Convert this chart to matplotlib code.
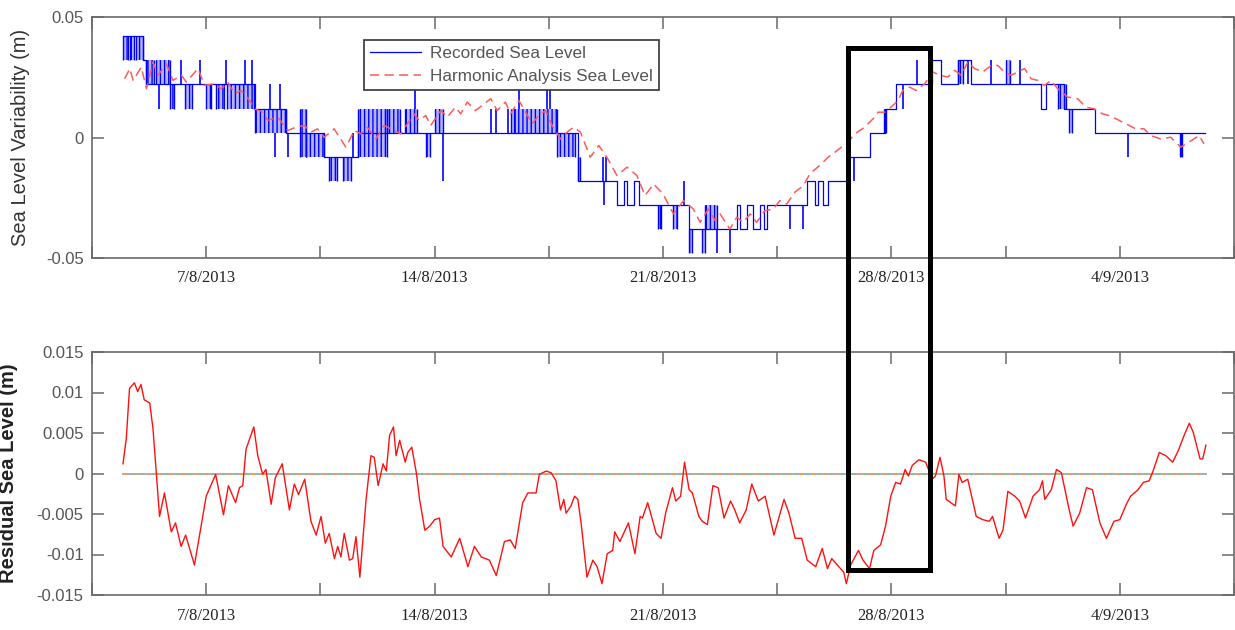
import matplotlib
matplotlib.use("Agg")
import matplotlib.pyplot as plt
from matplotlib.patches import Rectangle
import numpy as np

plt.rcParams['axes.unicode_minus'] = False
plt.rcParams['hatch.linewidth'] = 1.0
plt.rcParams['hatch.color'] = '#0000ff'

# ---------------- data (days of August 2013; 32 = 1 Sep) ----------------
# Recorded sea level: step change points (day, level in m)
rec_day = [4.45, 5.06, 5.16, 8.50, 9.45, 10.60, 11.65, 18.40, 19.60, 19.80, 19.90, 20.10,
           20.25, 21.80, 23.26, 23.36, 23.57, 23.77, 23.97, 24.10, 24.20, 25.40, 25.65,
           25.75, 25.90, 26.05, 26.70, 27.35, 27.80, 28.13, 29.25, 29.53, 30.04, 30.45,
           32.60, 32.75, 33.30, 34.25, 37.62]
rec_lvl = [0.042, 0.032, 0.022, 0.012, 0.002, -0.008, 0.002, -0.018, -0.028, -0.018, -0.028, -0.018,
           -0.028, -0.038, -0.028, -0.038, -0.028, -0.038, -0.028, -0.038, -0.028, -0.018, -0.028,
           -0.018, -0.028, -0.018, -0.008, 0.002, 0.012, 0.022, 0.032, 0.022, 0.032, 0.022,
           0.012, 0.022, 0.012, 0.002, 0.002]

# Dense flicker blocks in the recorded series: start day, end day, low, high
band_t0 = [4.45, 4.66, 4.85, 5.16, 5.45, 5.88, 6.35, 7.00, 7.30, 7.65, 8.50, 9.86, 10.05,
           10.75, 11.20, 11.65, 12.55, 13.10, 13.75, 14.00, 16.35, 17.74, 18.40, 20.85,
           21.32, 21.80, 22.19, 22.30, 27.78, 30.04, 31.52, 33.10, 33.45, 36.84]
band_t1 = [4.60, 4.78, 5.06, 5.40, 5.88, 6.00, 6.55, 7.15, 7.55, 8.45, 9.45, 10.05, 10.60,
           11.00, 11.45, 12.55, 12.95, 13.45, 13.85, 14.26, 17.74, 18.30, 18.47, 20.95,
           21.42, 21.90, 22.29, 22.66, 27.84, 30.20, 31.62, 33.35, 33.55, 36.90]
band_lo = [0.032, 0.032, 0.032, 0.022, 0.022, 0.012, 0.012, 0.012, 0.012, 0.012, 0.002, -0.008, -0.008,
           -0.018, -0.018, -0.008, 0.002, 0.002, -0.008, 0.002, 0.002, -0.008, -0.018, -0.038,
           -0.038, -0.048, -0.048, -0.038, 0.002, 0.022, 0.022, 0.012, 0.002, -0.008]
band_hi = [0.042, 0.042, 0.042, 0.032, 0.032, 0.022, 0.022, 0.022, 0.022, 0.022, 0.012, 0.012, 0.002,
           -0.008, -0.008, 0.012, 0.012, 0.012, 0.002, 0.012, 0.012, 0.002, -0.008, -0.028,
           -0.028, -0.038, -0.038, -0.028, 0.012, 0.032, 0.032, 0.022, 0.012, 0.002]

# Isolated single-sample spikes: day, low, high
spike_day = [5.55, 6.23, 6.80, 7.60, 8.20, 8.40, 8.95, 9.10, 9.25, 9.50, 11.50, 13.39, 14.26,
             15.74, 15.89, 16.25, 16.46, 16.60, 17.43, 17.53, 19.15, 19.20, 19.25, 21.63,
             22.65, 23.05, 24.90, 25.30, 26.85, 28.35, 28.78, 30.34, 31.06, 31.95, 35.24]
spike_lo = [0.012, 0.022, 0.022, 0.022, 0.022, 0.022, 0.012, -0.008, 0.012, -0.008, -0.008, 0.012, -0.018,
            0.002, 0.002, 0.002, 0.002, 0.012, 0.012, 0.012, -0.018, -0.028, -0.018, -0.028,
            -0.048, -0.048, -0.038, -0.038, -0.018, 0.012, 0.022, 0.022, 0.022, 0.022, -0.008]
spike_hi = [0.022, 0.032, 0.032, 0.032, 0.032, 0.032, 0.022, 0.002, 0.022, 0.002, 0.002, 0.022, 0.002,
            0.012, 0.012, 0.012, 0.012, 0.022, 0.022, 0.022, -0.008, -0.018, -0.008, -0.018,
            -0.038, -0.038, -0.028, -0.028, -0.008, 0.022, 0.032, 0.032, 0.032, 0.032, 0.002]

# Harmonic analysis sea level (day, mm)
harm_day = [4.50, 4.66, 4.76, 5.01, 5.17, 5.37, 5.52, 5.78, 5.98, 6.24, 6.39, 6.75, 6.95, 7.25,
            7.46, 7.66, 7.87, 8.07, 8.33, 8.48, 8.73, 8.89, 9.19, 9.50, 9.75, 10.01, 10.21,
            10.41, 10.62, 10.92, 11.28, 11.54, 11.74, 11.94, 12.20, 12.45, 12.66, 12.96,
            13.37, 13.52, 13.73, 13.88, 14.19, 14.39, 14.64, 14.80, 15.00, 15.25, 15.46,
            15.72, 15.92, 16.17, 16.33, 16.58, 16.79, 16.99, 17.19, 17.40, 17.60, 17.86,
            18.06, 18.26, 18.47, 18.77, 19.03, 19.28, 19.59, 19.90, 20.20, 20.45, 20.71,
            21.00, 21.32, 21.63, 21.93, 22.14, 22.39, 22.60, 22.75, 23.05, 23.26, 23.46,
            23.67, 23.87, 24.12, 24.38, 24.58, 24.79, 25.04, 25.30, 25.50,
            25.86, 26.06, 26.27, 26.47, 26.67, 26.88, 27.18, 27.44, 27.59, 27.79, 28.05,
            28.20, 28.35, 28.56, 28.76, 29.02, 29.27, 29.48, 29.73, 29.94, 30.14, 30.34,
            30.55, 30.80, 31.06, 31.26, 31.46, 31.67, 31.87, 32.08, 32.28, 32.48, 32.69,
            32.89, 33.10, 33.40, 33.71, 33.96, 34.22, 34.47, 34.67, 34.88, 35.18, 35.49,
            35.74, 35.95, 36.25, 36.56, 36.87, 37.12, 37.43, 37.58]
harm_mm = [24.4, 28.6, 23.7, 29.2, 20.2, 31.3, 25.8, 30.6, 23.7, 25.8, 23.0, 28.6, 21.6, 22.3,
           20.2, 23.0, 18.2, 19.5, 15.4, 11.9, 10.5, 7.1, 8.5, 2.9, 4.3, 5.0, 2.2,
           3.6, 0.1, 3.6, -4.0, 2.9, 1.5, 4.3, -0.6, 5.0, 3.6, 1.5,
           9.8, 7.1, 9.1, 5.0, 11.2, 8.5, 12.6, 9.8, 14.7, 11.2, 13.3,
           16.1, 11.2, 14.7, 9.8, 15.4, 10.5, 5.7, 9.1, 11.2, 5.0, -0.6,
           2.2, 4.3, 2.2, -8.2, -3.3, -8.2, -15.8, -12.3, -15.8, -24.1, -19.3,
           -23.4, -31.7, -26.2, -29.7, -35.2, -29.7, -34.5, -31.7, -38.0, -33.1, -35.2,
           -31.7, -35.2, -30.4, -29.7, -26.2, -27.6, -22.7, -20.0, -15.1,
           -10.9, -8.2, -6.1, -4.0, -1.9, 1.5, 4.3, 7.8, 10.5, 10.5, 13.3,
           15.4, 19.5, 20.9, 19.5, 22.3, 27.2, 25.8, 25.1, 27.9, 25.8, 31.3,
           28.6, 27.2, 29.9, 29.9, 27.2, 25.8, 27.2, 28.6, 24.4, 23.7, 21.6,
           23.7, 20.2, 16.8, 16.1, 12.6, 11.9, 9.8, 9.1, 7.8, 5.7, 3.6,
           3.6, 0.8, -0.6, 0.1, -4.0, -1.9, 0.8, -2.6]

# Residual sea level (day, mm)
res_day = [4.45, 4.55, 4.65, 4.80, 4.90, 5.00, 5.10, 5.27, 5.37, 5.47, 5.57, 5.72, 5.93, 6.06,
           6.23, 6.37, 6.64, 7.00, 7.29, 7.53, 7.68, 7.90, 8.02, 8.12, 8.22, 8.46, 8.58, 8.73,
           8.83, 8.99, 9.12, 9.33, 9.55, 9.70, 9.83, 10.02, 10.21, 10.37, 10.52, 10.65, 10.77,
           10.93, 11.03, 11.13, 11.23, 11.39, 11.49, 11.59, 11.71, 11.90, 12.05, 12.15,
           12.27, 12.42, 12.52, 12.62, 12.74, 12.82, 12.93, 13.10, 13.18, 13.30, 13.44, 13.54,
           13.70, 13.85, 14.00, 14.15, 14.26, 14.51, 14.77, 15.02, 15.22, 15.43, 15.68, 15.89,
           16.14, 16.32, 16.47, 16.70, 16.86, 17.11, 17.21, 17.42, 17.57, 17.72, 17.86, 17.96,
           18.03, 18.18, 18.29, 18.39, 18.49, 18.67, 18.85, 18.98, 19.13, 19.29, 19.46, 19.52,
           19.68, 19.94, 20.14, 20.30, 20.37, 20.53, 20.79, 20.94,
           21.08, 21.29, 21.39, 21.54, 21.66, 21.80, 21.90, 22.10, 22.20, 22.36, 22.53, 22.69,
           22.87, 23.07, 23.20, 23.35, 23.55, 23.72, 23.92, 24.13, 24.40, 24.71, 24.86, 25.05,
           25.25, 25.42, 25.68, 25.88, 26.04, 26.17, 26.39, 26.54, 26.62, 26.75, 26.99, 27.13,
           27.33, 27.46, 27.67, 27.82, 27.98, 28.13, 28.28, 28.42, 28.52, 28.64, 28.84, 29.05,
           29.25, 29.35, 29.49, 29.61,
           29.68, 29.96, 30.07, 30.17, 30.34, 30.60, 30.80, 31.00, 31.10, 31.30, 31.42, 31.57,
           31.78, 31.93, 32.11, 32.34, 32.54, 32.63, 32.70, 32.90, 33.06, 33.21, 33.45, 33.57,
           33.77, 33.98, 34.16, 34.39, 34.59, 34.82, 35.00, 35.20, 35.33, 35.56, 35.72, 35.90,
           36.02, 36.21, 36.41, 36.62, 36.79, 36.95, 37.13, 37.25, 37.46, 37.54, 37.64]
res_mm = [1.2, 4.3, 10.5, 11.2, 10.1, 11.0, 9.1, 8.7, 5.5, 0.1, -5.3, -2.4, -7.2, -6.1,
          -9.0, -7.6, -11.3, -2.8, -0.1, -5.1, -1.5, -3.6, -1.75, -1.5, 3.0, 5.75, 2.2, -0.1,
          0.5, -3.8, -0.5, 1.2, -4.5, -1.3, -2.6, -0.7, -5.9, -7.6, -5.3, -8.6, -7.4,
          -10.5, -9.0, -10.3, -7.4, -10.7, -10.5, -7.8, -12.8, -3.2, 2.2, 2.0,
          -1.5, 1.2, 0.3, 4.7, 5.75, 2.2, 4.1, 1.4, 2.6, 3.25, 0.1, -3.2,
          -7.0, -6.5, -5.7, -5.5, -9.0, -10.3, -8.0, -11.5, -9.0, -10.3, -10.7, -12.6,
          -8.4, -8.2, -9.25, -3.6, -2.4, -2.4, -0.1, 0.3, 0.1, -0.9, -4.5, -3.2,
          -4.9, -4.0, -2.8, -3.2, -6.1, -12.8, -10.7, -11.5, -13.6, -9.9, -9.5, -7.2,
          -8.4, -6.1, -9.9, -5.3, -5.5, -3.6, -7.4, -8.0,
          -4.9, -1.75, -3.4, -2.8, 1.4, -2.0, -2.4, -5.3, -5.9, -6.3, -1.5, -1.75,
          -5.5, -3.4, -4.5, -6.1, -4.5, -1.3, -3.4, -2.8, -7.6, -3.2, -4.9, -8.0,
          -8.0, -10.7, -11.5, -9.25, -11.75, -10.5, -11.5, -12.2, -13.6, -11.3, -9.5, -10.7,
          -11.75, -9.5, -8.8, -6.5, -2.8, -1.1, -1.3, 0.5, -0.3, 1.0, 1.7, 1.4,
          -0.7, -0.3, 2.0, -0.3,
          -3.2, -4.0, -0.1, -1.1, -0.7, -5.3, -5.7, -5.9, -5.3, -8.0, -7.0, -2.2,
          -2.8, -3.4, -5.5, -2.8, -2.0, -0.9, -3.2, -2.0, 0.5, 0.1, -4.5, -6.5,
          -4.9, -1.75, -2.0, -6.1, -8.0, -5.9, -5.7, -3.8, -2.8, -2.0, -1.1, -0.9,
          0.3, 2.6, 2.2, 1.4, 2.8, 4.5, 6.2, 5.1, 1.8, 1.8, 3.5]

major_days = [7, 14, 21, 28, 35]
major_labels = ['7/8/2013', '14/8/2013', '21/8/2013', '28/8/2013', '4/9/2013']
minor_days = [3.5, 10.5, 17.5, 24.5, 31.5, 38.5]
xlim = (3.5, 38.5)

# ---------------- figure ----------------
W, H = 1235, 630
fig = plt.figure(figsize=(W / 100, H / 100), dpi=100)
ax1 = fig.add_axes([92 / W, 1 - 258 / H, 1142 / W, 241 / H])
ax2 = fig.add_axes([92 / W, 1 - 595 / H, 1142 / W, 243 / H])

spine_c = '#6a6a6a'
tick_c = '#555555'
sans = ['Liberation Sans', 'DejaVu Sans']
serif = ['Liberation Serif', 'DejaVu Serif']

# top panel
ax1.step(rec_day, rec_lvl, where='post', color='#0000ff', lw=0.9,
         label='Recorded Sea Level', zorder=3)
for t0, t1, lo, hi in zip(band_t0, band_t1, band_lo, band_hi):
    ax1.fill_between([t0, t1], [lo, lo], [hi, hi], facecolor=(0.35, 0.35, 1.0, 0.45),
                     edgecolor='#0000ff', hatch='||||', lw=0, zorder=2)
    ax1.vlines([t0, t1], lo, hi, color='#0000ff', lw=1.0, zorder=3)
ax1.vlines(spike_day, spike_lo, spike_hi, color='#0000ff', lw=1.2, zorder=3)
ax1.plot(harm_day, np.array(harm_mm) / 1000.0, color='#ff5a5a', lw=1.1,
         linestyle=(0, (6, 3.5)), label='Harmonic Analysis Sea Level', zorder=4)
ax1.set_ylim(-0.05, 0.05)
ax1.set_yticks([-0.05, 0, 0.05])
ax1.set_yticklabels(['-0.05', '0', '0.05'])

# bottom panel
ax2.plot([res_day[0], res_day[-1]], [0, 0], color='#9fa8ff', lw=1.4, zorder=2)
ax2.plot([res_day[0], res_day[-1]], [0, 0], color='#f0a040', lw=1.4,
         linestyle=(0, (2, 4)), zorder=2)
ax2.plot([res_day[0], res_day[-1]], [0, 0], color='#90c080', lw=1.4,
         linestyle=(3, (2, 4)), zorder=2)
ax2.plot(res_day, np.array(res_mm) / 1000.0, color='#ff1010', lw=1.0, zorder=3)
ax2.set_ylim(-0.015, 0.015)
ax2.set_yticks([-0.015, -0.01, -0.005, 0, 0.005, 0.01, 0.015])
ax2.set_yticklabels(['-0.015', '-0.01', '-0.005', '0', '0.005', '0.01', '0.015'])

for ax in (ax1, ax2):
    ax.set_xlim(*xlim)
    ax.set_xticks(major_days)
    ax.set_xticklabels(major_labels, fontfamily=serif, fontsize=12, color='#222222')
    ax.set_xticks(minor_days, minor=True)
    ax.tick_params(axis='both', which='both', direction='in', length=8.5, width=1.1,
                   color=spine_c, top=True, right=True)
    ax.tick_params(axis='x', which='both', pad=9)
    ax.tick_params(axis='y', pad=6, labelsize=12, labelcolor=tick_c)
    for lab in ax.get_yticklabels():
        lab.set_fontfamily(sans)
    for s in ax.spines.values():
        s.set_color(spine_c)
        s.set_linewidth(1.2)

ax1.set_ylabel('Sea Level Variability (m)', fontfamily=sans, fontsize=14.5, color='#333333')
ax1.yaxis.set_label_coords(-0.054, 0.5)
ax2.set_ylabel('Residual Sea Level (m)', fontfamily=sans, fontsize=14.5, color='#222222',
               fontweight='bold')
ax2.yaxis.set_label_coords(-0.065, 0.5)

leg = ax1.legend(loc='upper left', bbox_to_anchor=(364 / W, 1 - 40 / H),
                 bbox_transform=fig.transFigure, fancybox=False, framealpha=1,
                 edgecolor='#333333', borderpad=0.35, labelspacing=0.45,
                 handlelength=3.0, handletextpad=0.5, borderaxespad=0,
                 prop={'family': sans, 'size': 12.3})
leg.get_frame().set_linewidth(1.2)
for t in leg.get_texts():
    t.set_color('#555555')

# highlight box spanning both panels
fig.add_artist(Rectangle((848 / W, 1 - 570 / H), (930 - 848) / W, (570 - 47.5) / H,
                         transform=fig.transFigure, fill=False, lw=3.6,
                         edgecolor='black', zorder=10))

fig.savefig('out.png', dpi=100)
